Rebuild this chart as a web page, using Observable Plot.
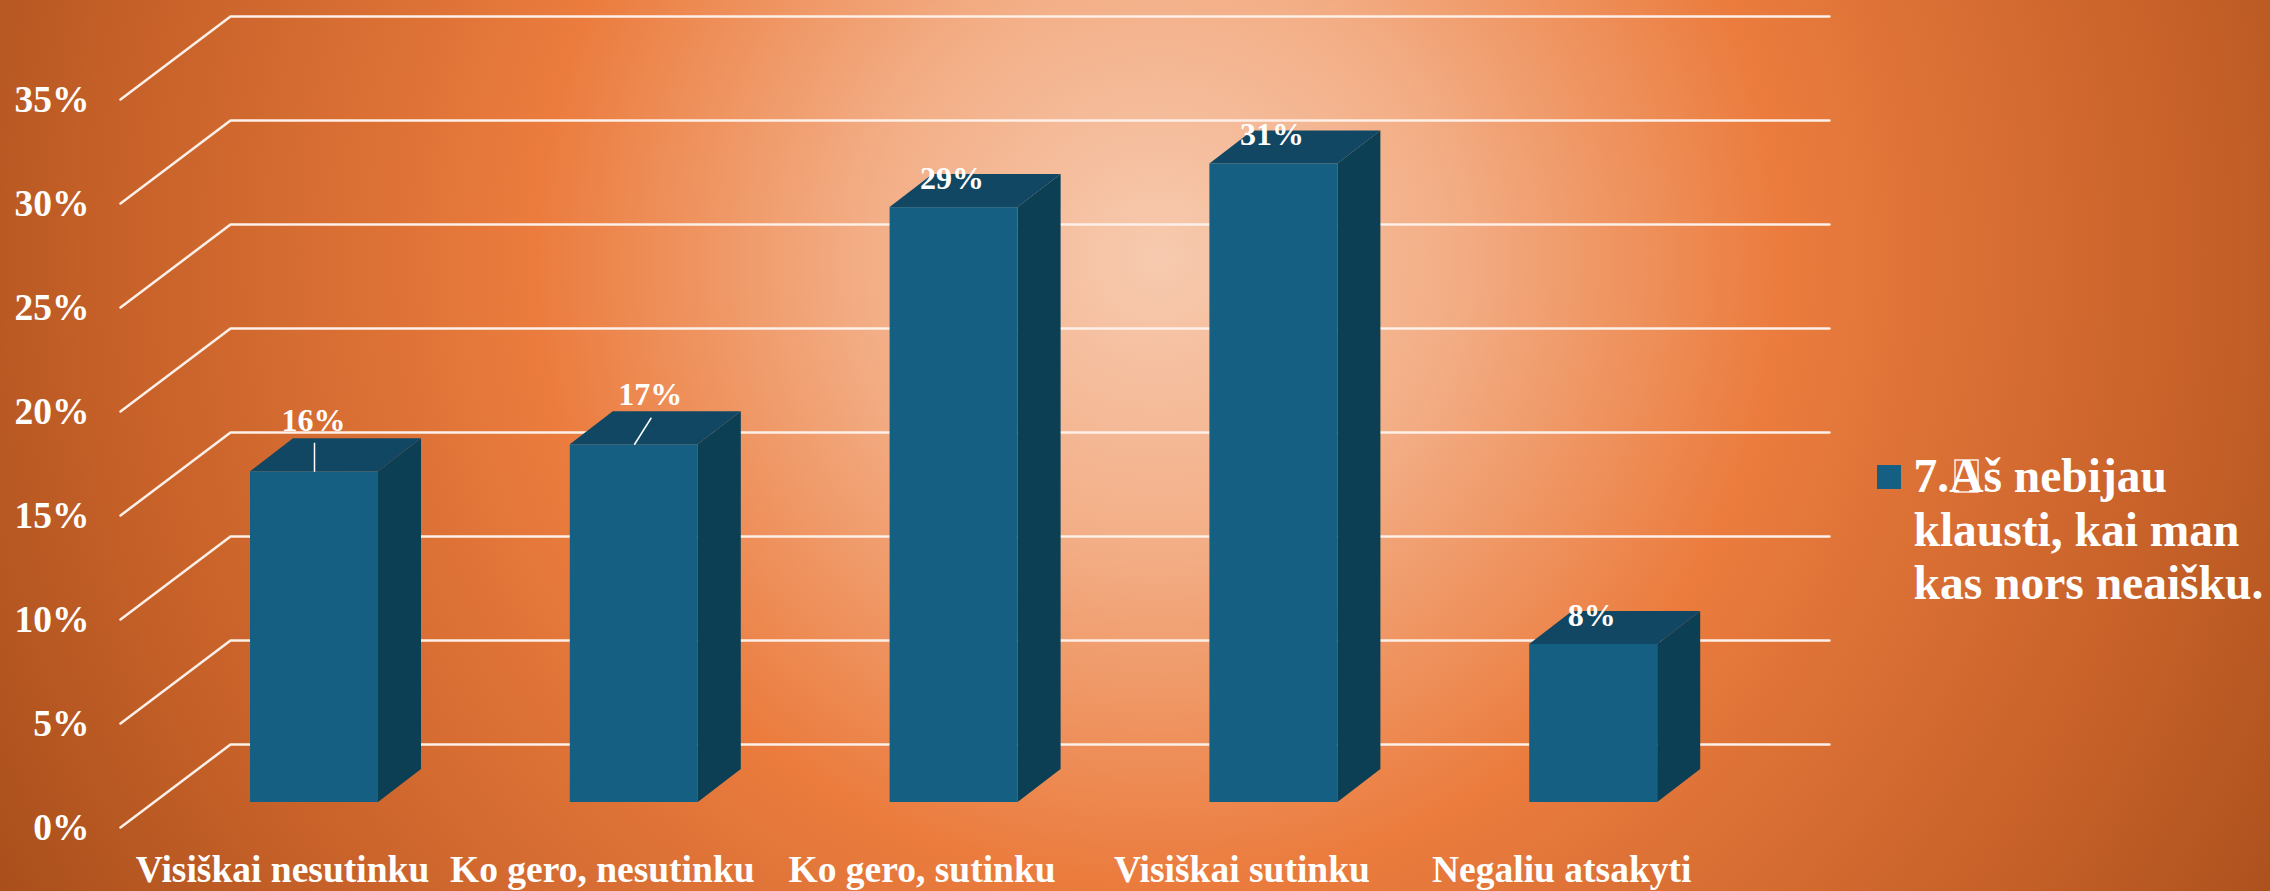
<!DOCTYPE html>
<html>
<head>
<meta charset="utf-8">
<script src="https://cdn.jsdelivr.net/npm/d3@7"></script>
<script src="https://cdn.jsdelivr.net/npm/@observablehq/plot@0.6"></script>
<style>
html,body{margin:0;padding:0;width:2270px;height:891px;overflow:hidden}
#chart{position:relative;width:2270px;height:891px;background:radial-gradient(circle 1319px at 51% 29%,#f7caaf 0%,#f3ae86 22%,#eb7c3e 47%,#c56028 80%,#a94f1b 100%)}
#chart svg{display:block;position:absolute;left:0;top:0}
</style>
</head>
<body>
<div id="chart"></div>
<script>
const categories = ["Visiškai nesutinku", "Ko gero, nesutinku", "Ko gero, sutinku", "Visiškai sutinku", "Negaliu atsakyti"];
const values = [15.9, 17.2, 28.6, 30.7, 7.6];
const valueLabels = ["16%", "17%", "29%", "31%", "8%"];
const yTicks = [0, 5, 10, 15, 20, 25, 30, 35];
const seriesName = "7.Aš nebijau\nklausti, kai man\nkas nors neaišku.";

const W = 2270, H = 891;
const toX = px => (px - 314) / 319.8;   // category units
const toY = px => (802 - px) / 20.8;    // percent units
const barHalf = 64 / 319.8;
const barDX = 43 / 319.8, barDY = 33 / 20.8;
const wallDY = 58 / 20.8, frontDY = -25 / 20.8;

const bars = values.map((v, i) => ({i, v, label: valueLabels[i]}));

const gridPts = yTicks.flatMap(t => [
  {t, x: toX(120), y: t + frontDY},
  {t, x: toX(230), y: t + wallDY},
  {t, x: toX(1829), y: t + wallDY}
]);
const sidePts = bars.flatMap(b => [0, 1].map(k => ({
  i: b.i, x: b.i + barHalf + k * barDX, y1: k * barDY, y2: b.v + k * barDY
})));
const topPts = bars.flatMap(b => [0, 1].map(k => ({
  i: b.i, y: b.v + k * barDY, x1: b.i - barHalf + k * barDX, x2: b.i + barHalf + k * barDX
})));
const leaders = [
  {x1: 0, y1: values[0], x2: 0, y2: values[0] + 29 / 20.8},
  {x1: 1, y1: values[1], x2: 1 + 17 / 319.8, y2: values[1] + 27 / 20.8}
];

const serif = "'Liberation Serif','Times New Roman',serif";
const plot = Plot.plot({
  width: W, height: H,
  marginLeft: 0, marginRight: 0, marginTop: 0, marginBottom: 0,
  style: {background: "transparent", fontFamily: serif, overflow: "visible"},
  x: {type: "linear", domain: [toX(0), toX(W)], range: [0, W], axis: null},
  y: {type: "linear", domain: [toY(H), toY(0)], range: [H, 0], axis: null},
  marks: [
    Plot.line(gridPts, {x: "x", y: "y", z: "t", stroke: "#fdf0e8", strokeWidth: 2.5, curve: "linear"}),
    Plot.areaY(sidePts, {x: "x", y1: "y1", y2: "y2", z: "i", fill: "#0d3f54"}),
    Plot.areaX(topPts, {y: "y", x1: "x1", x2: "x2", z: "i", fill: "#114763"}),
    Plot.rect(bars, {x1: d => d.i - barHalf, x2: d => d.i + barHalf, y1: () => 0, y2: "v", fill: "#156082", inset: 0}),
    Plot.link(leaders, {x1: "x1", y1: "y1", x2: "x2", y2: "y2", stroke: "#ffffff", strokeWidth: 1.5}),
    Plot.text(bars.filter(d => d.i === 0), {x: "i", y: "v", text: "label", dy: -51, dx: -1, fontSize: 32, fontWeight: "bold", fill: "white"}),
    Plot.text(bars.filter(d => d.i === 1), {x: "i", y: "v", text: "label", dx: 16, dy: -50, fontSize: 32, fontWeight: "bold", fill: "white"}),
    Plot.text(bars.filter(d => d.i > 1), {x: "i", y: "v", text: "label", dy: -29, dx: -2, fontSize: 32, fontWeight: "bold", fill: "white"}),
    Plot.axisY(yTicks, {anchor: "left", tickSize: 0, tickPadding: 0, dx: 89, dy: 25, tickFormat: d => d + "%", fontSize: 37.5, fontWeight: "bold", fill: "white", textAnchor: "end", label: null}),
    Plot.axisX(categories.map((c, i) => i), {anchor: "bottom", tickSize: 0, tickPadding: 0, dx: -32, dy: -36, tickFormat: i => categories[i], fontSize: 37.5, fontWeight: "bold", fill: "white", label: null}),
    Plot.rect([seriesName], {x1: () => toX(1877), x2: () => toX(1901), y1: () => toY(489), y2: () => toY(465), fill: "#156082"}),
    Plot.text([seriesName], {frameAnchor: "top-left", dx: 1913, dy: 453.5, text: d => d, textAnchor: "start", lineAnchor: "top", lineHeight: 1.13, fontSize: 47.5, fontWeight: "bold", fill: "white"}),
    Plot.rect([seriesName], {x1: () => toX(1955), x2: () => toX(1978), y1: () => toY(492), y2: () => toY(460), fill: "none", stroke: "#ffffff", strokeWidth: 1.5, strokeOpacity: 0.9})
  ]
});
document.getElementById("chart").appendChild(plot);
</script>
</body>
</html>
